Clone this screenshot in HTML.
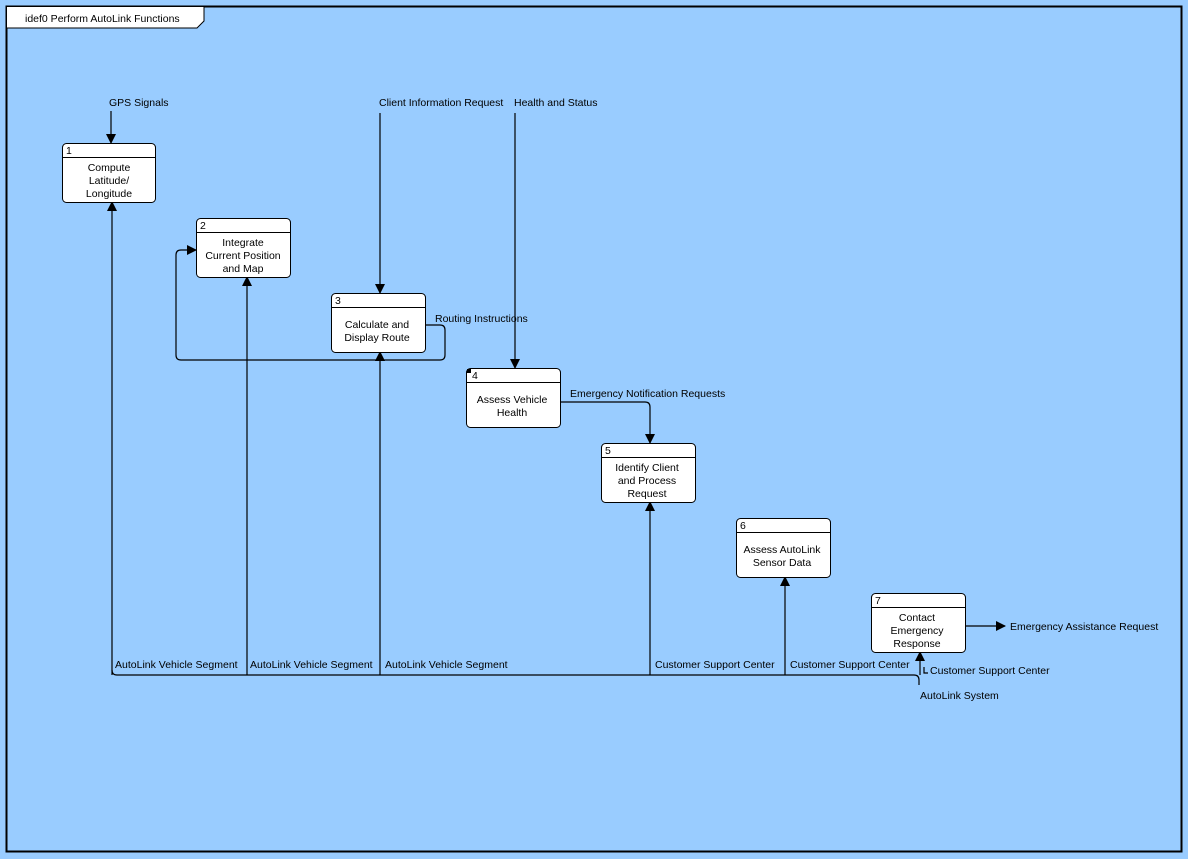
<!DOCTYPE html>
<html><head><style>
body{margin:0;background:#99ccff}
svg{display:block}
text{font-family:"Liberation Sans",sans-serif;font-size:10.5px;fill:#000}
</style></head><body>
<svg width="1188" height="859" xmlns="http://www.w3.org/2000/svg">
<defs><marker id="a" markerWidth="10" markerHeight="10" refX="9" refY="5" orient="auto" markerUnits="userSpaceOnUse"><path d="M0,0L10,5L0,10z" fill="#000"/></marker></defs>
<rect x="0" y="0" width="1188" height="859" fill="#99ccff"/>
<rect x="6.5" y="6.5" width="1175" height="845" fill="none" stroke="#000" stroke-width="2"/>
<path d="M6.5,6.5H204V21L197,28H6.5z" fill="#fff" stroke="#000"/>
<text x="25" y="22">idef0 Perform AutoLink Functions</text>
<g fill="none" stroke="#000" stroke-width="1.2">
<path d="M111,111V143" marker-end="url(#a)"/>
<path d="M380,113V293" marker-end="url(#a)"/>
<path d="M515,113V368" marker-end="url(#a)"/>
<path d="M425,325H440Q445,325 445,330V355Q445,360 440,360H181Q176,360 176,355V255Q176,250 181,250H196" marker-end="url(#a)"/>
<path d="M560,402H645Q650,402 650,407V443" marker-end="url(#a)"/>
<path d="M965,626H1005" marker-end="url(#a)"/>
<path d="M112,670Q112,675 117,675H914Q919,675 919,680V685"/>
<path d="M112,675V202" marker-end="url(#a)"/>
<path d="M247,675V277" marker-end="url(#a)"/>
<path d="M380,675V352" marker-end="url(#a)"/>
<path d="M650,675V502" marker-end="url(#a)"/>
<path d="M785,675V577" marker-end="url(#a)"/>
<path d="M920,675V652" marker-end="url(#a)"/>
<path d="M924,667V673H928"/>
</g>
<g fill="#fff" stroke="#000" stroke-width="1">
<rect x="62.5" y="143.5" width="93" height="59" rx="4"/>
<rect x="196.5" y="218.5" width="94" height="59" rx="4"/>
<rect x="331.5" y="293.5" width="94" height="59" rx="4"/>
<rect x="466.5" y="368.5" width="94" height="59" rx="4"/>
<rect x="601.5" y="443.5" width="94" height="59" rx="4"/>
<rect x="736.5" y="518.5" width="94" height="59" rx="4"/>
<rect x="871.5" y="593.5" width="94" height="59" rx="4"/>
</g>
<g stroke="#000"><path d="M62,157.5H156M196,232.5H291M331,307.5H426M466,382.5H561M601,457.5H696M736,532.5H831M871,607.5H966"/></g>
<rect x="467" y="369" width="4" height="4" fill="#000"/>
<text x="66" y="154">1</text><text x="200" y="229">2</text><text x="335" y="304">3</text><text x="472" y="379">4</text><text x="605" y="454">5</text><text x="740" y="529">6</text><text x="875" y="604">7</text>
<g text-anchor="middle">
<text x="109" y="171">Compute</text><text x="109" y="184">Latitude/</text><text x="109" y="197">Longitude</text>
<text x="243" y="246">Integrate</text><text x="243" y="259">Current Position</text><text x="243" y="272">and Map</text>
<text x="377" y="328">Calculate and</text><text x="377" y="341">Display Route</text>
<text x="512" y="403">Assess Vehicle</text><text x="512" y="416">Health</text>
<text x="647" y="471">Identify Client</text><text x="647" y="484">and Process</text><text x="647" y="497">Request</text>
<text x="782" y="553">Assess AutoLink</text><text x="782" y="566">Sensor Data</text>
<text x="917" y="621">Contact</text><text x="917" y="634">Emergency</text><text x="917" y="647">Response</text>
</g>
<text x="109" y="106">GPS Signals</text>
<text x="379" y="106">Client Information Request</text>
<text x="514" y="106">Health and Status</text>
<text x="435" y="322">Routing Instructions</text>
<text x="570" y="397">Emergency Notification Requests</text>
<text x="1010" y="630">Emergency Assistance Request</text>
<text x="115" y="668">AutoLink Vehicle Segment</text>
<text x="250" y="668">AutoLink Vehicle Segment</text>
<text x="385" y="668">AutoLink Vehicle Segment</text>
<text x="655" y="668">Customer Support Center</text>
<text x="790" y="668">Customer Support Center</text>
<text x="930" y="674">Customer Support Center</text>
<text x="920" y="699">AutoLink System</text>
</svg>
</body></html>
